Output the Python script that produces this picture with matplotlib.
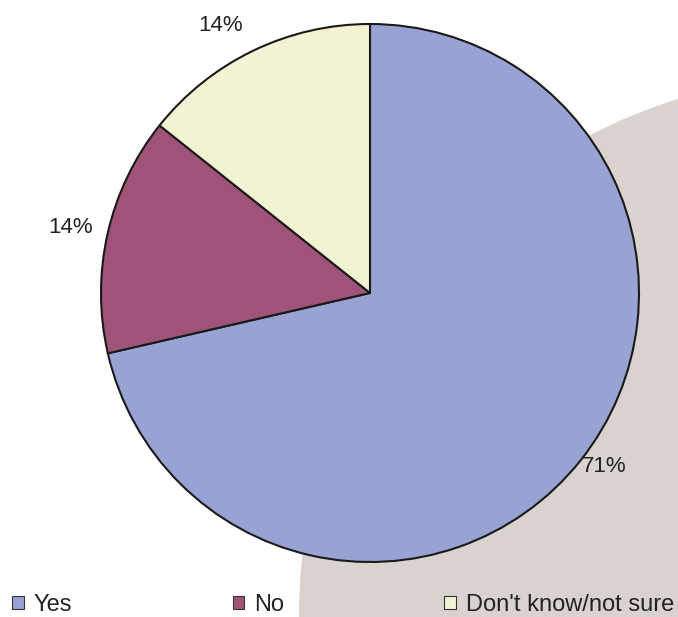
import numpy as np
import matplotlib.pyplot as plt
from matplotlib.patches import Circle, Patch

plt.rcParams['font.family'] = ['Liberation Sans', 'DejaVu Sans']

categories = ['Yes', 'No', "Don't know/not sure"]
shares = [71.4, 14.3, 14.3]
colors = ['#99a3d3', '#a05378', '#f3f3d3']

W, H = 678, 617
fig = plt.figure(figsize=(W / 100, H / 100), dpi=100)
ax = fig.add_axes([0, 0, 1, 1])

# decorative backdrop disc at lower right
ax.add_patch(Circle((840, H - 615), 541, facecolor='#dad2ce', edgecolor='none', zorder=0))

cx, cy, r = 370, H - 293, 269
wedges, _ = ax.pie(shares, colors=colors, startangle=90, counterclock=False,
                   center=(cx, cy), radius=r, frame=True,
                   wedgeprops=dict(edgecolor='#1a1a1a', linewidth=1.5))
ax.set_xlim(0, W)
ax.set_ylim(0, H)
ax.set_aspect('equal')
ax.axis('off')

# percentage labels: nudged away from the rim at each slice's mid angle
label_nudge = [(24, -6), (-37, 6), (-33, 25)]
for w, val, (dx, dy) in zip(wedges, shares, label_nudge):
    mid = np.deg2rad((w.theta1 + w.theta2) / 2)
    ax.text(cx + r * np.cos(mid) + dx, cy + r * np.sin(mid) + dy, f'{val:.0f}%',
            ha='center', va='center', fontsize=16, color='#222222')

handles = [Patch(facecolor=c, edgecolor='#333333', linewidth=0.8) for c in colors]
fig.legend(handles, categories, loc='center left', bbox_to_anchor=(0.018, 0.02),
           ncol=3, frameon=False, fontsize=17, handlelength=0.5, handleheight=0.5,
           handletextpad=0.4, columnspacing=6.8, borderaxespad=0, borderpad=0,
           labelcolor='#222222')

fig.savefig('out.png', dpi=100)
